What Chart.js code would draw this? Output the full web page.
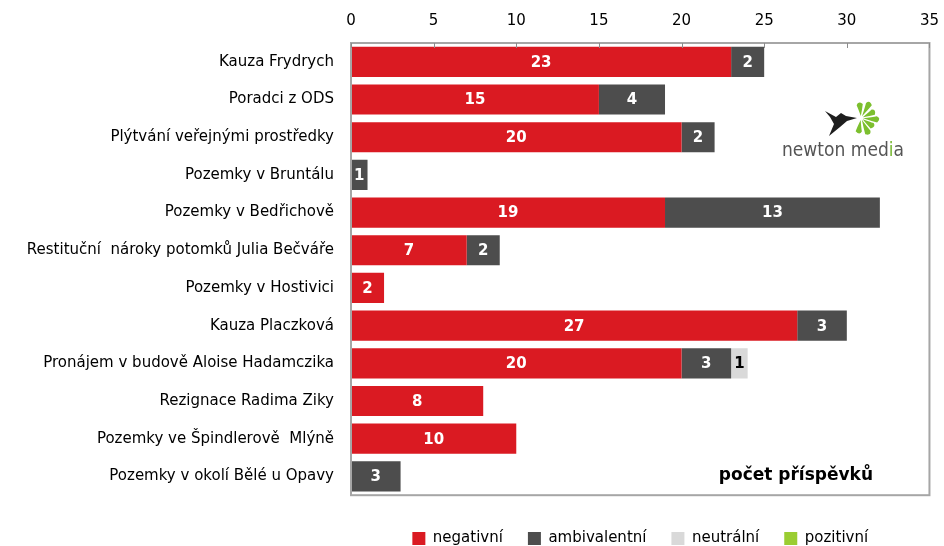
<!DOCTYPE html>
<html>
<head>
<meta charset="utf-8">
<script src="https://cdn.jsdelivr.net/npm/chart.js@4"></script>
<style>
  html, body { margin: 0; padding: 0; background: #fff; }
  #wrap { width: 944px; height: 546px; }
</style>
</head>
<body>
<div id="wrap"><canvas id="graph"></canvas></div>
<script>
// kategorie (kauzy)
const categories = [
  "Kauza Frydrych",
  "Poradci z ODS",
  "Plýtvání veřejnými prostředky",
  "Pozemky v Bruntálu",
  "Pozemky v Bedřichově",
  "Restituční  nároky potomků Julia Bečváře",
  "Pozemky v Hostivici",
  "Kauza Placzková",
  "Pronájem v budově Aloise Hadamczika",
  "Rezignace Radima Ziky",
  "Pozemky ve Špindlerově  Mlýně",
  "Pozemky v okolí Bělé u Opavy"
];
const negativni    = [23, 15, 20, 0, 19, 7, 2, 27, 20, 8, 10, 0];
const ambivalentni = [2, 4, 2, 1, 13, 2, 0, 3, 3, 0, 0, 3];
const neutralni    = [0, 0, 0, 0, 0, 0, 0, 0, 1, 0, 0, 0];
const pozitivni    = [0, 0, 0, 0, 0, 0, 0, 0, 0, 0, 0, 0];
const xTicks = [0, 5, 10, 15, 20, 25, 30, 35];

const FONT = "'DejaVu Sans', Verdana, sans-serif";

// rámeček grafu + tick čárky dovnitř
const framePlugin = {
  id: "frame",
  afterDraw(chart) {
    const { ctx, chartArea: a, scales } = chart;
    ctx.save();
    ctx.strokeStyle = "#a6a6a6";
    ctx.lineWidth = 2;
    ctx.strokeRect(a.left, a.top, a.right - a.left, a.bottom - a.top);
    ctx.lineWidth = 1;
    ctx.strokeStyle = "#8c8c8c";
    xTicks.forEach(v => {
      const x = Math.round(scales.x.getPixelForValue(v)) + 0.5;
      ctx.beginPath();
      ctx.moveTo(x, a.top);
      ctx.lineTo(x, a.top + 5);
      ctx.stroke();
    });
    ctx.restore();
  }
};

// hodnoty uprostřed segmentů
const valuePlugin = {
  id: "values",
  afterDatasetsDraw(chart) {
    const { ctx } = chart;
    ctx.save();
    ctx.font = "bold 15px " + FONT;
    ctx.textAlign = "center";
    ctx.textBaseline = "middle";
    chart.data.datasets.forEach((ds, di) => {
      const meta = chart.getDatasetMeta(di);
      if (meta.hidden) return;
      meta.data.forEach((bar, i) => {
        const v = ds.data[i];
        if (!v) return;
        ctx.fillStyle = ds.labelColor;
        const x = (bar.x + bar.base) / 2;
        ctx.fillText(String(v), x, bar.y + 1);
      });
    });
    ctx.restore();
  }
};

// popisek osy a logo
const extrasPlugin = {
  id: "extras",
  afterDraw(chart) {
    const { ctx } = chart;
    ctx.save();
    ctx.fillStyle = "#000";
    ctx.font = "bold 17px " + FONT;
    ctx.textAlign = "right";
    ctx.textBaseline = "middle";
    ctx.fillText("počet příspěvků", 873, 476);

    // logo newton media
    ctx.font = "19px 'Liberation Sans Narrow', 'DejaVu Sans Condensed', sans-serif";
    ctx.textAlign = "left";
    const parts = [["newton med", "#555"], ["i", "#78b833"], ["a", "#555"]];
    let tx = 782;
    parts.forEach(([t, c]) => {
      ctx.fillStyle = c;
      ctx.fillText(t, tx, 151);
      tx += ctx.measureText(t).width;
    });

    // pták
    ctx.fillStyle = "#1e1e1e";
    ctx.beginPath();
    ctx.moveTo(825, 111);
    ctx.lineTo(836, 117);
    ctx.lineTo(841, 113);
    ctx.lineTo(846, 116);
    ctx.lineTo(857, 118);
    ctx.lineTo(847, 121);
    ctx.lineTo(840, 127);
    ctx.lineTo(829, 136);
    ctx.lineTo(834, 124);
    ctx.lineTo(830, 117);
    ctx.closePath();
    ctx.fill();
    // zelené paprsky
    ctx.fillStyle = "#7cbf2e";
    const cx = 861, cy = 118;
    [-95, -60, -25, 5, 35, 65, 100].forEach((deg, k) => {
      const r = deg * Math.PI / 180;
      const len = 14 + (k % 2) * 3;
      ctx.save();
      ctx.translate(cx + Math.cos(r) * 2, cy + Math.sin(r) * 2);
      ctx.rotate(r);
      ctx.beginPath();
      ctx.moveTo(0, 0);
      ctx.quadraticCurveTo(len * 0.55, -2, len * 0.8, -3.2);
      ctx.quadraticCurveTo(len + 1.5, -1.5, len * 0.85, 3);
      ctx.quadraticCurveTo(len * 0.5, 2, 0, 0);
      ctx.fill();
      ctx.restore();
    });
    ctx.restore();
  }
};

const data = {
  labels: categories,
  datasets: [
    { label: "negativní", data: negativni, backgroundColor: "#da1a22", labelColor: "#fff" },
    { label: "ambivalentní", data: ambivalentni, backgroundColor: "#4d4d4d", labelColor: "#fff" },
    { label: "neutrální", data: neutralni, backgroundColor: "#d9d9d9", labelColor: "#000" },
    { label: "pozitivní", data: pozitivni, backgroundColor: "#9acd32", labelColor: "#000" }
  ].map(ds => Object.assign(ds, {
    categoryPercentage: 0.8,
    barPercentage: 1.0,
    borderWidth: 0
  }))
};

const config = {
  type: "bar",
  data: data,
  options: {
    indexAxis: "y",
    responsive: true,
    maintainAspectRatio: false,
    animation: false,
    layout: { padding: { left: 0, right: 8, top: 0, bottom: -10 } },
    scales: {
      x: {
        position: "top",
        stacked: true,
        min: 0,
        max: 35,
        afterBuildTicks(scale) {
          scale.ticks = xTicks.map(v => ({ value: v }));
        },
        afterFit(scale) { scale.height = 43; },
        grid: { display: false },
        border: { display: false },
        ticks: {
          color: "#000",
          font: { family: FONT, size: 15 },
          padding: 5,
          maxRotation: 0
        }
      },
      y: {
        stacked: true,
        afterFit(scale) { scale.width = 351; },
        grid: { display: false },
        border: { display: false },
        ticks: {
          color: "#000",
          font: { family: FONT, size: 15 },
          padding: 9,
          autoSkip: false
        }
      }
    },
    plugins: {
      legend: {
        position: "bottom",
        fullSize: false,
        title: {
          display: true,
          text: " ",
          font: { size: 9 },
          padding: 0
        },
        labels: {
          color: "#000",
          font: { family: FONT, size: 15 },
          boxWidth: 13,
          boxHeight: 13,
          padding: 25
        }
      },
      tooltip: { enabled: false }
    }
  },
  plugins: [valuePlugin, framePlugin, extrasPlugin]
};

let myChart = new Chart(document.getElementById("graph"), config);
</script>
</body>
</html>
